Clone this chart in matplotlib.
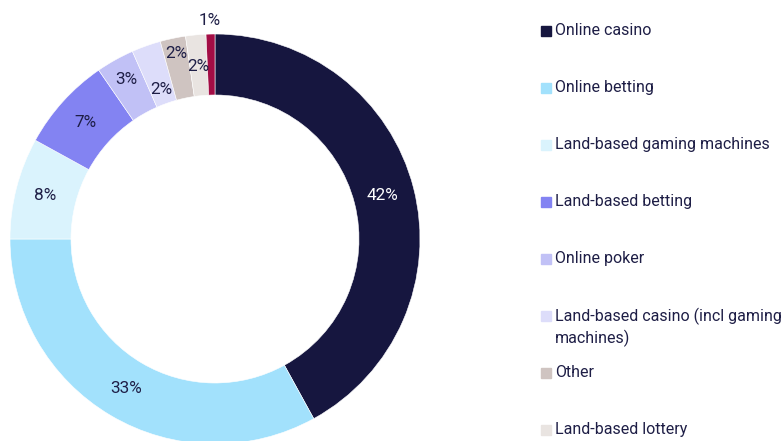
import numpy as np
import matplotlib.pyplot as plt
from matplotlib.patches import Rectangle

categories = ["Online casino", "Online betting", "Land-based gaming machines",
              "Land-based betting", "Online poker",
              "Land-based casino (incl gaming\nmachines)", "Other",
              "Land-based lottery", "Land-based bingo"]
shares = [42.0, 33.0, 8.0, 7.4, 3.0, 2.3, 2.0, 1.6, 0.7]
colors = ["#16163F", "#A2E1FC", "#DAF3FD", "#8383F2", "#C1C1F6",
          "#DDDDFA", "#CFC4C1", "#E9E4E1", "#A30D45"]
label_r = [173, 174, 175, 174, 183, 159, 190, 173, 219]

W, H = 782, 441
fig = plt.figure(figsize=(W / 100, H / 100), dpi=100)
ax = fig.add_axes([0, 0, 1, 1])

cx, cy, R, r_in = 215, H - 239, 205, 144
wedges, _ = ax.pie(shares, colors=colors, startangle=90, counterclock=False,
                   center=(cx, cy), radius=R, frame=True,
                   wedgeprops=dict(width=R - r_in, edgecolor="white", linewidth=0.4))
ax.set_xlim(0, W)
ax.set_ylim(0, H)
ax.set_aspect("equal")
ax.axis("off")

font = "Roboto"
total = sum(shares)
cum = 0
for i, v in enumerate(shares):
    mid = (cum + v / 2) / total * 2 * np.pi
    cum += v
    x = cx + label_r[i] * np.sin(mid)
    y = cy + label_r[i] * np.cos(mid)
    col = "white" if i == 0 else "#1E1E46"
    ax.text(x, y, f"{round(v)}%", ha="center", va="center", fontsize=12.3,
            color=col, family=font)

# legend
for i, name in enumerate(categories[:8]):
    yp = 31 + 57 * i
    fig.patches.append(Rectangle((541 / W, 1 - (yp + 5) / H), 10 / W, 10 / H,
                                 transform=fig.transFigure, color=colors[i]))
    fig.text(555 / W, 1 - (yp - 8) / H, name, ha="left", va="top",
             fontsize=11.5, color="#1E1E46", family=font, linespacing=1.35)

fig.savefig("out.png", dpi=100)
